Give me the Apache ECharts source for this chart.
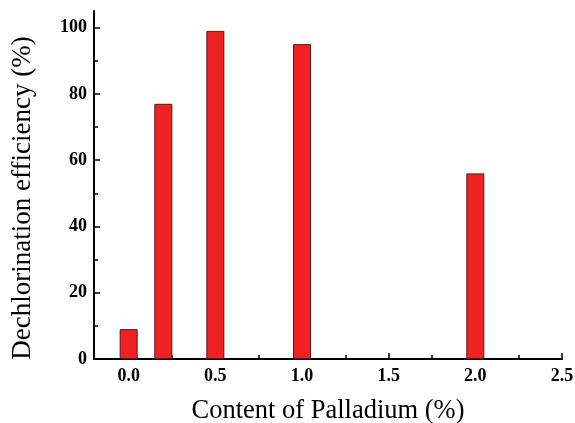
<!DOCTYPE html>
<html>
<head>
<meta charset="utf-8">
<script src="https://cdn.jsdelivr.net/npm/echarts@6/dist/echarts.min.js"></script>
<style>
  html, body { margin: 0; padding: 0; background: #fff; }
  #chart { width: 575px; height: 423px; }
</style>
</head>
<body>
<div id="chart"></div>
<script>
// palladium content (%) and dechlorination efficiency (%)
const palladium = [0.0, 0.2, 0.5, 1.0, 2.0]
const efficiency = [9, 77, 99, 95, 56]

const xMajor = [0, 0.5, 1.0, 1.5, 2.0, 2.5]
const xMinor = [0.25, 0.75, 1.25, 1.75, 2.25]
const yMajor = [0, 20, 40, 60, 80, 100]
const yMinor = [10, 30, 50, 70, 90]

const font = 'Liberation Serif'

const chart = echarts.init(document.getElementById('chart'))

const axisLine = { show: true, onZero: false, lineStyle: { color: '#000', width: 2 } }
const hiddenLine = { show: false, onZero: false }

chart.setOption({
  animation: false,
  grid: { left: 94, right: 13, top: 11, bottom: 64, containLabel: false, outerBoundsMode: 'none' },
  xAxis: [{
    type: 'value',
    min: -0.2,
    max: 2.5,
    name: 'Content of Palladium (%)',
    nameLocation: 'middle',
    nameGap: 39,
    nameTextStyle: { fontFamily: font, fontSize: 26.5, color: '#000' },
    axisLine: axisLine,
    axisTick: { show: true, inside: true, length: 6, customValues: xMajor, lineStyle: { color: '#000', width: 1.5 } },
    axisLabel: {
      customValues: xMajor,
      formatter: v => v.toFixed(1),
      fontFamily: font, fontWeight: 'bold', fontSize: 18, color: '#000', margin: 8
    },
    splitLine: { show: false }
  }, {
    type: 'value',
    min: -0.2,
    max: 2.5,
    position: 'bottom',
    axisLine: hiddenLine,
    axisTick: { show: true, inside: true, length: 4, customValues: xMinor, lineStyle: { color: '#000', width: 1.5 } },
    axisLabel: { show: false },
    splitLine: { show: false }
  }],
  yAxis: [{
    type: 'value',
    min: 0,
    max: 105,
    name: 'Dechlorination efficiency (%)',
    nameLocation: 'middle',
    nameGap: 58,
    nameTextStyle: { fontFamily: font, fontSize: 27, color: '#000', padding: [0, 26, 0, 0] },
    axisLine: axisLine,
    axisTick: { show: true, inside: true, length: 6, customValues: yMajor, lineStyle: { color: '#000', width: 1.5 } },
    axisLabel: {
      customValues: yMajor,
      fontFamily: font, fontWeight: 'bold', fontSize: 18, color: '#000', margin: 7
    },
    splitLine: { show: false }
  }, {
    type: 'value',
    min: 0,
    max: 105,
    position: 'left',
    axisLine: hiddenLine,
    axisTick: { show: true, inside: true, length: 4, customValues: yMinor, lineStyle: { color: '#000', width: 1.5 } },
    axisLabel: { show: false },
    splitLine: { show: false }
  }],
  series: [{
    type: 'bar',
    xAxisIndex: 0,
    yAxisIndex: 0,
    barWidth: 18,
    data: palladium.map((p, i) => [p, efficiency[i]]),
    itemStyle: { color: '#ee2222', borderColor: '#5a1414', borderWidth: 1 }
  }]
})
</script>
</body>
</html>
